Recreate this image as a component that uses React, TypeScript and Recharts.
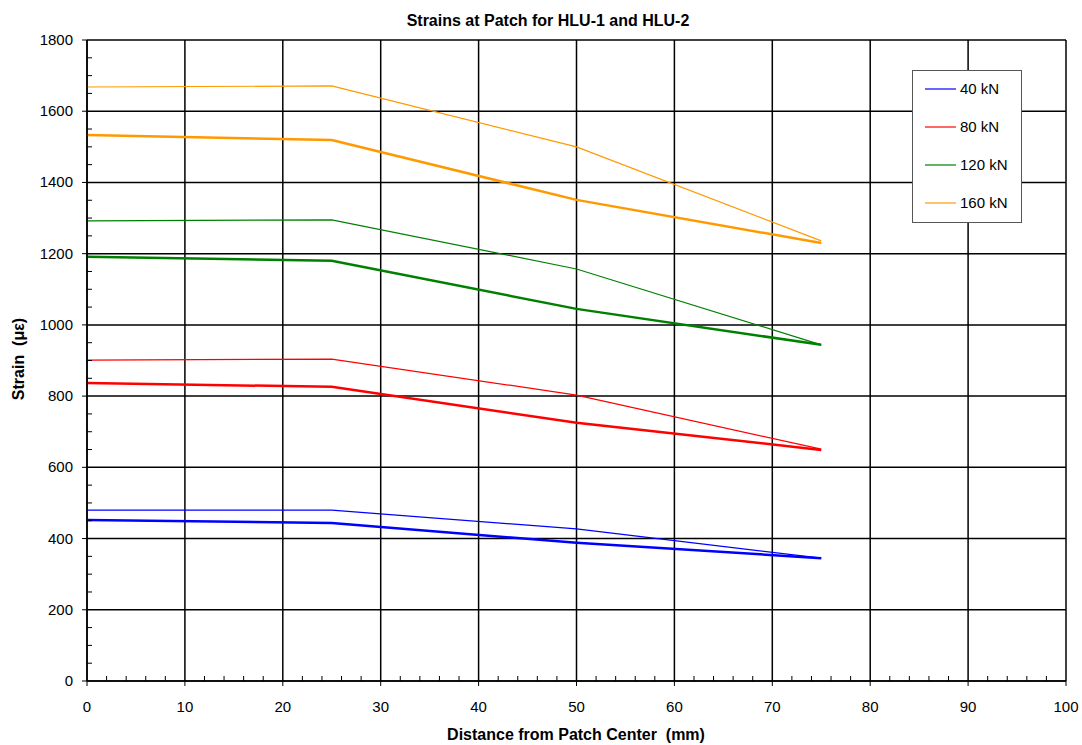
import React from "react";
import { LineChart, Line, XAxis, YAxis, CartesianGrid, Customized } from "recharts";

const distances = [0, 25, 50, 75];
const hlu1_40 = [480, 480, 427, 345];
const hlu2_40 = [452, 444, 388, 345];
const hlu1_80 = [901, 904, 803, 651];
const hlu2_80 = [837, 826, 725, 649];
const hlu1_120 = [1292, 1295, 1157, 944];
const hlu2_120 = [1191, 1180, 1045, 944];
const hlu1_160 = [1668, 1671, 1500, 1236];
const hlu2_160 = [1533, 1519, 1351, 1230];

const xTicks = Array.from({ length: 51 }, (_, i) => i * 2);
const xMajor = [0, 10, 20, 30, 40, 50, 60, 70, 80, 90, 100];
const yTicks = Array.from({ length: 37 }, (_, i) => i * 50);
const yMajor = [0, 200, 400, 600, 800, 1000, 1200, 1400, 1600, 1800];

const legendLabels = ["40 kN", "80 kN", "120 kN", "160 kN"];
const colors = ["#0000FF", "#FF0000", "#008000", "#FF9900"];

const data = distances.map((d, i) => ({
  x: d,
  a40: hlu1_40[i],
  b40: hlu2_40[i],
  a80: hlu1_80[i],
  b80: hlu2_80[i],
  a120: hlu1_120[i],
  b120: hlu2_120[i],
  a160: hlu1_160[i],
  b160: hlu2_160[i],
}));

const FONT = "Liberation Sans, Arial, sans-serif";

const XTick = (props: any) => {
  const { x, y, payload } = props;
  const major = payload.value % 10 === 0;
  if (major) {
    return (
      <g>
        <line x1={x} x2={x} y1={y} y2={y + 5} stroke="#000" strokeWidth={1} />
        <text x={x} y={y + 31} textAnchor="middle" fontSize={15} fontFamily={FONT} fill="#000">
          {payload.value}
        </text>
      </g>
    );
  }
  return <line x1={x} x2={x} y1={y} y2={y - 5} stroke="#000" strokeWidth={1} />;
};

const YTick = (props: any) => {
  const { x, y, payload } = props;
  const major = payload.value % 200 === 0;
  if (major) {
    return (
      <g>
        <line x1={x - 5} x2={x} y1={y} y2={y} stroke="#000" strokeWidth={1} />
        <text x={x - 14} y={y + 5} textAnchor="end" fontSize={15} fontFamily={FONT} fill="#000">
          {payload.value}
        </text>
      </g>
    );
  }
  return <line x1={x} x2={x + 5} y1={y} y2={y} stroke="#000" strokeWidth={1} />;
};

const series = [
  { key: "a40", c: 0, w: 1.2 },
  { key: "b40", c: 0, w: 2.5 },
  { key: "a80", c: 1, w: 1.2 },
  { key: "b80", c: 1, w: 2.5 },
  { key: "a120", c: 2, w: 1.2 },
  { key: "b120", c: 2, w: 2.5 },
  { key: "a160", c: 3, w: 1.2 },
  { key: "b160", c: 3, w: 2.5 },
];

const LegendBox = () => (
  <g>
    <rect x={912.5} y={70.5} width={109} height={152} fill="#fff" stroke="#555" strokeWidth={1} />
    {legendLabels.map((l, i) => (
      <g key={l}>
        <line x1={925} x2={956} y1={89 + i * 38} y2={89 + i * 38} stroke={colors[i]} strokeWidth={1.2} />
        <text x={960} y={94 + i * 38} fontSize={15} fontFamily={FONT} fill="#000">
          {l}
        </text>
      </g>
    ))}
  </g>
);

const pre = { whiteSpace: "pre" as const };

export default function App() {
  return (
    <div style={{ position: "absolute", left: 0, top: 0, width: 1082, height: 745, background: "#fff" }}>
      <LineChart
        width={1082}
        height={745}
        data={data}
        margin={{ top: 40, right: 16, left: 27, bottom: 24 }}
      >
        <text x={548} y={26} textAnchor="middle" fontSize={16} fontWeight="bold" fontFamily={FONT} fill="#000" style={pre} xmlSpace="preserve">
          Strains at Patch for HLU-1 and HLU-2
        </text>
        <text x={576} y={740} textAnchor="middle" fontSize={16} fontWeight="bold" fontFamily={FONT} fill="#000" style={pre} xmlSpace="preserve">
          {"Distance from Patch Center  (mm)"}
        </text>
        <text
          x={24}
          y={359}
          textAnchor="middle"
          fontSize={16}
          fontWeight="bold"
          fontFamily={FONT}
          fill="#000"
          style={pre}
          xmlSpace="preserve"
          transform="rotate(-90 24 359)"
        >
          {"Strain  (με)"}
        </text>
        <CartesianGrid
          stroke="#000"
          strokeWidth={1.5}
          horizontalValues={yMajor}
          verticalValues={xMajor}
        />
        <XAxis
          dataKey="x"
          type="number"
          domain={[0, 100]}
          ticks={xTicks}
          interval={0}
          tickLine={false}
          tickSize={0}
          tickMargin={0}
          tick={<XTick />}
          height={40}
          axisLine={{ stroke: "#000", strokeWidth: 1.5 }}
        />
        <YAxis
          type="number"
          domain={[0, 1800]}
          ticks={yTicks}
          interval={0}
          tickLine={false}
          tickSize={0}
          tickMargin={0}
          tick={<YTick />}
          width={60}
          axisLine={{ stroke: "#000", strokeWidth: 1.5 }}
        />
        {series.map((s) => (
          <Line
            key={s.key}
            dataKey={s.key}
            stroke={colors[s.c]}
            strokeWidth={s.w}
            dot={false}
            activeDot={false}
            isAnimationActive={false}
            type="linear"
          />
        ))}
        <Customized component={LegendBox} />
      </LineChart>
    </div>
  );
}
